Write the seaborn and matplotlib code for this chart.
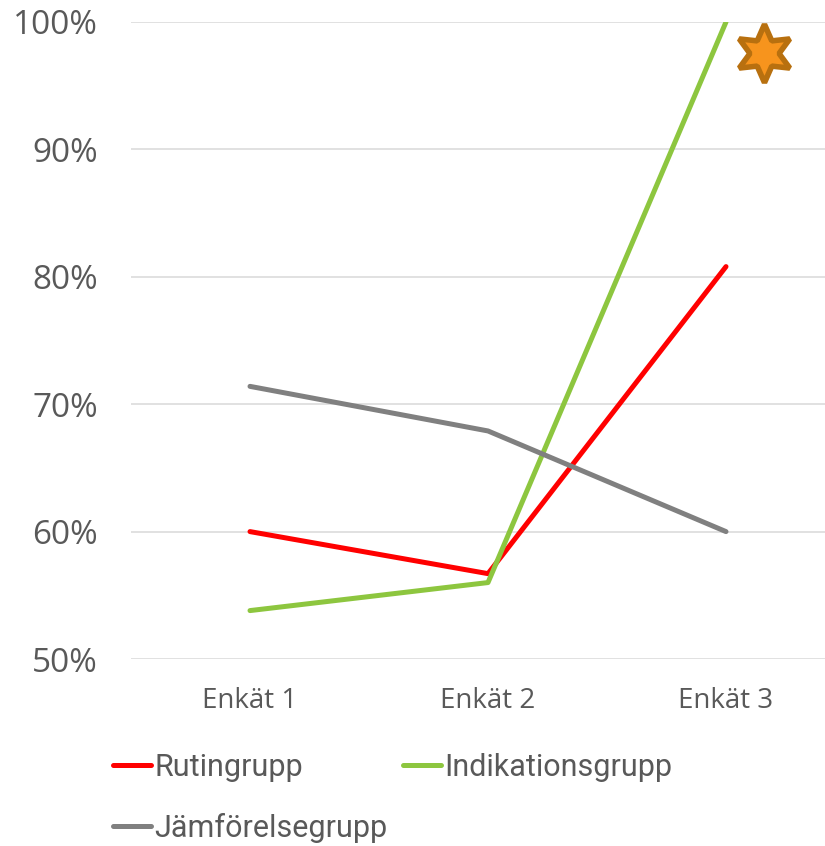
import matplotlib
matplotlib.use("Agg")
import matplotlib.pyplot as plt
import seaborn as sns
import pandas as pd

# survey rounds and share per group (percent)
surveys = ["Enkät 1", "Enkät 2", "Enkät 3"]
groups = ["Rutingrupp", "Indikationsgrupp", "Jämförelsegrupp"]
rutin = [60.0, 56.7, 80.8]
indikation = [53.8, 56.0, 100.0]
jamforelse = [71.4, 67.9, 60.0]
colors = ["#FF0000", "#8DC63F", "#808080"]

# star annotation next to Enkät 3
star_x = 2.16
star_y = 97.6

rows = []
for g, vals in zip(groups, [rutin, indikation, jamforelse]):
    for i, v in enumerate(vals):
        rows.append({"pos": i, "value": v, "grupp": g})
df = pd.DataFrame(rows)

sns.set_style("white")
plt.rcParams["font.family"] = ["Open Sans", "DejaVu Sans"]

fig = plt.figure(figsize=(8.25, 8.46), dpi=100)
ax = fig.add_axes([131 / 825, 187 / 846, 714 / 825, 637 / 846])

sns.lineplot(data=df, x="pos", y="value", hue="grupp", hue_order=groups,
             palette=colors, linewidth=3.6, sort=False, ax=ax,
             solid_capstyle="round", solid_joinstyle="round")

ax.plot([star_x], [star_y], marker=(6, 1, 0), markersize=42,
        markerfacecolor="#F7941D", markeredgecolor="#B8700F",
        markeredgewidth=4, linestyle="none", clip_on=False)

ax.set_xlim(-0.5, 2.5)
ax.set_ylim(50, 100)
ax.set_yticks([50, 60, 70, 80, 90, 100])
ax.set_yticklabels([f"{t}%" for t in [50, 60, 70, 80, 90, 100]])
ax.set_xticks(range(len(surveys)))
ax.set_xticklabels(surveys)
ax.set_xlabel("")
ax.set_ylabel("")

ax.yaxis.grid(True, color="#D9D9D9", linewidth=1.1)
ax.set_axisbelow(True)
for s in ax.spines.values():
    s.set_visible(False)
ax.tick_params(axis="y", length=0, pad=24, labelsize=24, labelcolor="#595959")
ax.tick_params(axis="x", length=0, pad=20, labelsize=20, labelcolor="#595959")

handles, labels = ax.get_legend_handles_labels()
ax.get_legend().remove()
order = [0, 2, 1]
leg = fig.legend([handles[i] for i in order], [labels[i] for i in order],
                 loc="upper left", bbox_to_anchor=(113 / 825, 1 - 753 / 846),
                 ncol=2, frameon=False, handlelength=1.25, handletextpad=0.1,
                 columnspacing=0.5, labelspacing=1.0, borderpad=0, borderaxespad=0,
                 prop={"family": ["Roboto", "Open Sans"], "size": 22})
for t in leg.get_texts():
    t.set_color("#595959")
for h in leg.legend_handles:
    h.set_linewidth(3.6)

fig.savefig("out.png", dpi=100)
